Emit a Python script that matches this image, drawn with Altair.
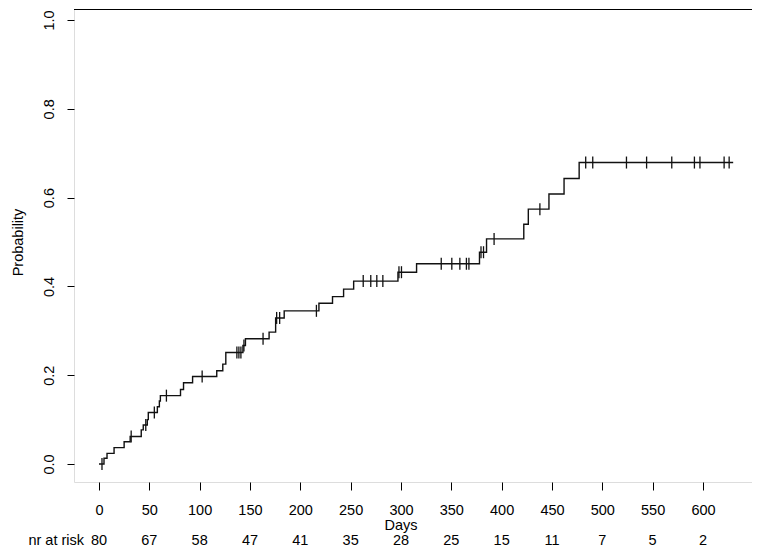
import altair as alt
import pandas as pd

# Step function (cumulative probability)
step_days = [0, 5, 8, 15, 25, 31, 42, 44, 48, 49, 58, 60, 61, 81, 84, 93, 117, 123,
             126, 143, 145.5, 169, 175.5, 184, 218.5, 232, 243, 253, 297, 315.5,
             378, 385, 422, 426.5, 447, 462, 477, 630]
step_prob = [0, 0.013, 0.024, 0.037, 0.050, 0.062, 0.077, 0.088, 0.100, 0.116, 0.129,
             0.142, 0.154, 0.168, 0.183, 0.197, 0.210, 0.225, 0.251, 0.267, 0.282,
             0.297, 0.329, 0.345, 0.362, 0.377, 0.394, 0.412, 0.432, 0.451, 0.477,
             0.507, 0.540, 0.574, 0.608, 0.643, 0.679, 0.679]

# Censoring marks
cens_days = [3, 32, 46.5, 55, 67, 102.5, 137, 139, 141, 144, 163, 176.5, 179.5, 216,
             262.5, 270, 276, 282, 298, 300.5, 340, 350.5, 358.5, 365, 367.5, 379.5,
             382, 392.5, 438, 483.5, 490.5, 524, 544, 569, 591.5, 597, 621, 626]
cens_prob = [0, 0.062, 0.088, 0.116, 0.154, 0.197, 0.251, 0.251, 0.251, 0.267, 0.282,
             0.329, 0.329, 0.345, 0.412, 0.412, 0.412, 0.412, 0.432, 0.432, 0.451,
             0.451, 0.451, 0.451, 0.451, 0.477, 0.477, 0.507, 0.574, 0.679, 0.679,
             0.679, 0.679, 0.679, 0.679, 0.679, 0.679, 0.679]

# Number at risk
risk_days = [0, 50, 100, 150, 200, 250, 300, 350, 400, 450, 500, 550, 600]
risk_n = [80, 67, 58, 47, 41, 35, 28, 25, 15, 11, 7, 5, 2]

x_ticks = [0, 50, 100, 150, 200, 250, 300, 350, 400, 450, 500, 550, 600]
y_ticks = [0.0, 0.2, 0.4, 0.6, 0.8, 1.0]

FONT = "Liberation Sans"
FS = 14.5
W, H = 678, 473

xs = alt.Scale(domain=[-24.8, 648.7], nice=False, zero=False)
ys = alt.Scale(domain=[-0.0405, 1.0248], nice=False, zero=False)

steps = pd.DataFrame({"day": step_days, "prob": step_prob})
cens = pd.DataFrame({"day": cens_days, "prob": cens_prob})
risk = pd.DataFrame({"day": risk_days, "n": [str(v) for v in risk_n]})

x_axis = alt.Axis(values=x_ticks, title=None, domain=False, grid=False, tickSize=8,
                  tickColor="black", tickWidth=1, labelFontSize=FS, labelFont=FONT,
                  labelColor="black", labelPadding=13, labelFlush=False,
                  labelOverlap=False)
y_axis = alt.Axis(values=y_ticks, format=".1f", title="Probability", domain=False,
                  grid=False, tickSize=7, tickColor="black", tickWidth=1,
                  labelFontSize=FS, labelFont=FONT, labelColor="black",
                  labelAngle=270, labelAlign="center", labelBaseline="alphabetic",
                  labelPadding=14, labelFlush=False, labelOverlap=False,
                  titleFont=FONT, titleFontSize=FS, titleFontWeight="normal",
                  titleColor="black", titleAngle=270, titleAlign="center",
                  titleBaseline="alphabetic", titleX=-52, titleY=233)

line = alt.Chart(steps).mark_line(interpolate="step-after", color="#111111",
                                  strokeWidth=1.4).encode(
    x=alt.X("day:Q", scale=xs, axis=x_axis),
    y=alt.Y("prob:Q", scale=ys, axis=y_axis),
)

ticks = alt.Chart(cens).mark_tick(orient="vertical", size=12, thickness=1.3,
                                  color="#111111", opacity=1).encode(
    x=alt.X("day:Q", scale=xs),
    y=alt.Y("prob:Q", scale=ys),
)

top_edge = alt.Chart(pd.DataFrame({"k": [0]})).mark_rule(
    color="black", strokeWidth=1.2
).encode(x=alt.value(0), x2=alt.value(W), y=alt.value(0.5))

risk_text = alt.Chart(risk).mark_text(font=FONT, fontSize=FS, color="black",
                                      baseline="alphabetic", align="center").encode(
    x=alt.X("day:Q", scale=xs),
    y=alt.value(536),
    text="n:N",
)

risk_label = alt.Chart(pd.DataFrame({"t": ["nr at risk"]})).mark_text(
    font=FONT, fontSize=FS, color="black", baseline="alphabetic", align="right"
).encode(x=alt.value(10), y=alt.value(536), text="t:N")

days_label = alt.Chart(pd.DataFrame({"t": ["Days"]})).mark_text(
    font=FONT, fontSize=FS, color="black", baseline="alphabetic", align="center"
).encode(x=alt.value(327), y=alt.value(521), text="t:N")

chart = alt.layer(line, ticks, top_edge, risk_text, risk_label, days_label).properties(
    width=W, height=H,
    autosize=alt.AutoSizeParams(type="none"),
    padding={"left": 66, "top": 1, "right": 0, "bottom": 68},
).configure_view(stroke="black", strokeWidth=1.2, fill="white").configure(
    background="white"
)

chart.save("out.html", embed_options={"renderer": "svg", "actions": False})
